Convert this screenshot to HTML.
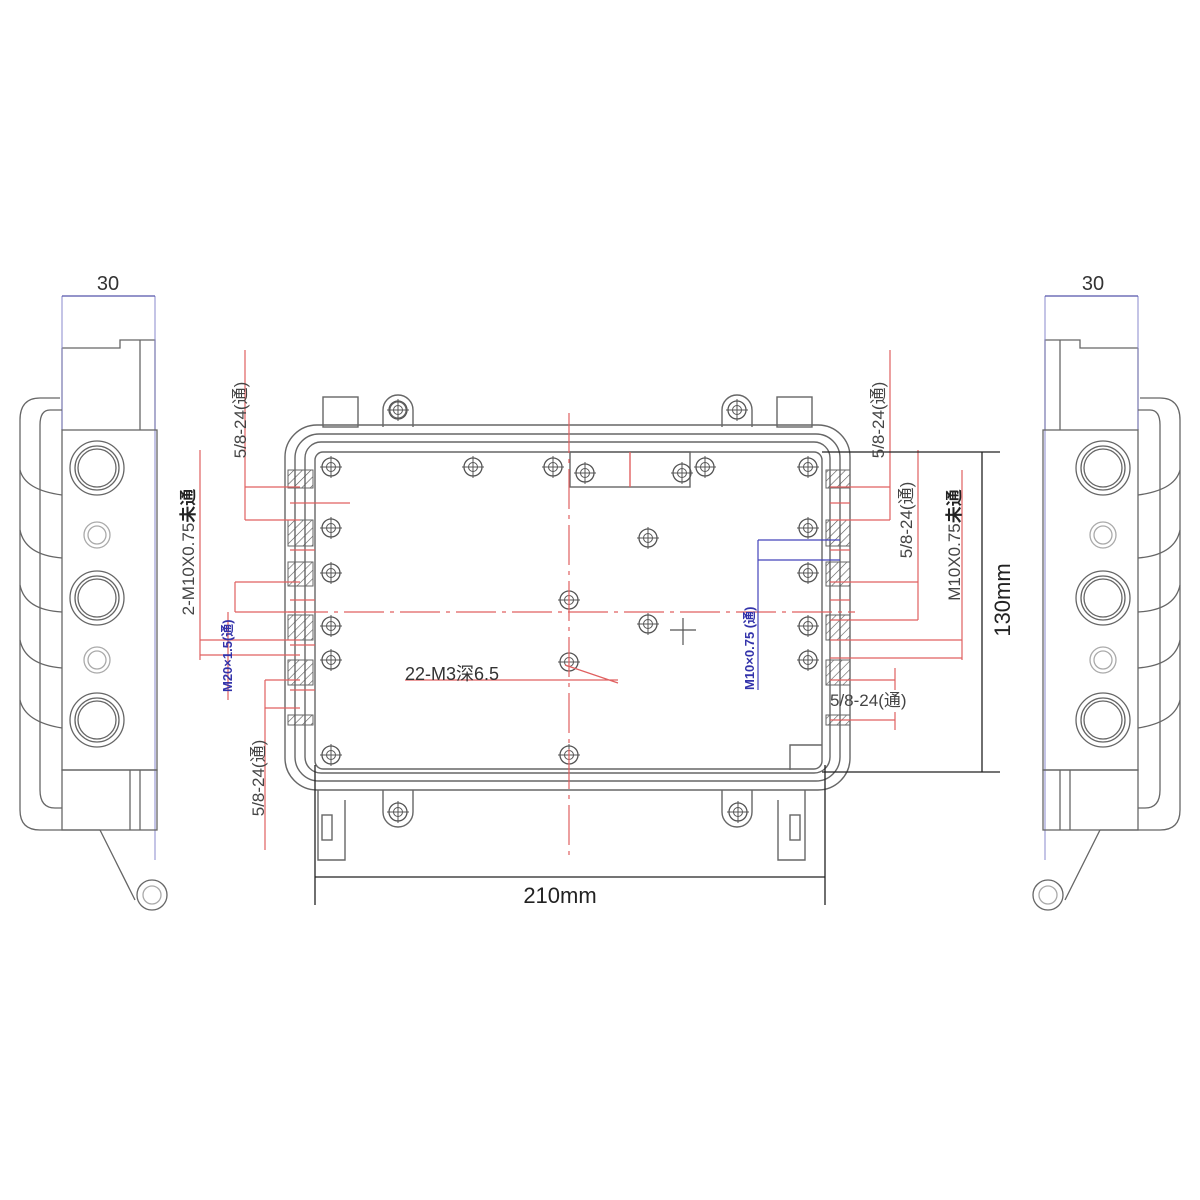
<!DOCTYPE html>
<html><head><meta charset="utf-8"><style>
html,body{margin:0;padding:0;background:#fff}
svg{display:block}
text{font-family:"Liberation Sans","Noto Sans CJK SC",sans-serif}
</style></head><body>
<svg width="1200" height="1200" viewBox="0 0 1200 1200" xmlns="http://www.w3.org/2000/svg">
<defs>
<pattern id="h" width="6" height="6" patternUnits="userSpaceOnUse" patternTransform="rotate(45)">
<line x1="0" y1="0" x2="0" y2="6" stroke="#555" stroke-width="1.2"/></pattern>
<g id="hole"><circle r="9" fill="none" stroke="#555" stroke-width="1.3"/><circle r="4.5" fill="none" stroke="#555" stroke-width="1"/><line x1="-11" y1="0" x2="11" y2="0" stroke="#555" stroke-width="1"/><line x1="0" y1="-11" x2="0" y2="11" stroke="#555" stroke-width="1"/></g>
<g id="side" fill="none" stroke="#666" stroke-width="1.3">
<path d="M62,348 H120 V340 H155 V430 M62,348 V430"/>
<line x1="140" y1="340" x2="140" y2="430"/>
<line x1="62" y1="296" x2="62" y2="430" stroke="#8888cc" stroke-width="1"/>
<line x1="155" y1="296" x2="155" y2="860" stroke="#8888cc" stroke-width="1"/>
<path d="M60,398 H40 Q20,398 20,420 V810 Q20,830 40,830 H100"/>
<path d="M62,410 H50 Q40,410 40,425 V790 Q40,808 55,808 H62"/>
<path d="M20,470 Q25,490 62,495 M20,530 Q25,555 62,558 M20,585 Q25,610 62,612 M20,640 Q25,665 62,668 M20,700 Q25,722 62,728"/>
<rect x="62" y="430" width="95" height="340"/>
<rect x="62" y="770" width="95" height="60"/>
<line x1="130" y1="770" x2="130" y2="830"/>
<line x1="140" y1="770" x2="140" y2="830"/>
<circle cx="97" cy="468" r="27"/><circle cx="97" cy="468" r="22"/><circle cx="97" cy="468" r="19"/>
<circle cx="97" cy="598" r="27"/><circle cx="97" cy="598" r="22"/><circle cx="97" cy="598" r="19"/>
<circle cx="97" cy="720" r="27"/><circle cx="97" cy="720" r="22"/><circle cx="97" cy="720" r="19"/>
<circle cx="97" cy="535" r="13" stroke="#aaa"/><circle cx="97" cy="535" r="9" stroke="#aaa"/>
<circle cx="97" cy="660" r="13" stroke="#aaa"/><circle cx="97" cy="660" r="9" stroke="#aaa"/>
<path d="M100,830 L135,900"/>
<circle cx="152" cy="895" r="15"/><circle cx="152" cy="895" r="9" stroke="#aaa"/>
<line x1="62" y1="296" x2="155" y2="296" stroke="#5555aa"/>
</g>
</defs>

<!-- side views -->
<use href="#side"/>
<text x="108" y="290" font-size="20" text-anchor="middle" fill="#333">30</text>
<g transform="translate(1200,0) scale(-1,1)"><use href="#side"/></g>
<text x="1093" y="290" font-size="20" text-anchor="middle" fill="#333">30</text>

<!-- main body -->
<g fill="none" stroke="#666" stroke-width="1.4">
<rect x="323" y="397" width="35" height="30"/>
<rect x="777" y="397" width="35" height="30"/>
<path d="M383,427 V410 a15,15 0 0 1 30,0 V427"/>
<path d="M722,427 V410 a15,15 0 0 1 30,0 V427"/>
<rect x="285" y="425" width="565" height="365" rx="32"/>
<rect x="295" y="434" width="545" height="347" rx="24"/>
<rect x="305" y="442" width="525" height="331" rx="16"/>
<rect x="315" y="452" width="507" height="317" rx="8"/>
<path d="M383,790 V812 a15,15 0 0 0 30,0 V790"/>
<path d="M722,790 V812 a15,15 0 0 0 30,0 V790"/>
<path d="M318,790 V860 H345 V800"/><rect x="322" y="815" width="10" height="25"/>
<path d="M778,800 V860 H805 V790"/><rect x="790" y="815" width="10" height="25"/>
<rect x="570" y="452" width="120" height="35"/>
<line x1="630" y1="452" x2="630" y2="487" stroke="#e06060"/>
<path d="M790,770 V745 H822"/>
</g>
<circle cx="398" cy="410" r="8" fill="none" stroke="#666"/><use href="#hole" x="398" y="410" transform="" />
<use href="#hole" x="737" y="410"/><use href="#hole" x="398" y="812"/><use href="#hole" x="738" y="812"/>
<!-- hatched pads -->
<g fill="url(#h)" stroke="#666" stroke-width="1">
<rect x="288" y="470" width="25" height="18"/><rect x="288" y="520" width="25" height="26"/><rect x="288" y="562" width="25" height="24"/>
<rect x="288" y="615" width="25" height="25"/><rect x="288" y="660" width="25" height="25"/><rect x="288" y="715" width="25" height="10"/>
<rect x="826" y="470" width="24" height="18"/><rect x="826" y="520" width="24" height="26"/><rect x="826" y="562" width="24" height="24"/>
<rect x="826" y="615" width="24" height="25"/><rect x="826" y="660" width="24" height="25"/><rect x="826" y="715" width="24" height="10"/>
</g>
<!-- holes -->
<use href="#hole" x="331" y="467"/><use href="#hole" x="473" y="467"/><use href="#hole" x="553" y="467"/><use href="#hole" x="705" y="467"/><use href="#hole" x="808" y="467"/>
<use href="#hole" x="331" y="528"/><use href="#hole" x="808" y="528"/><use href="#hole" x="331" y="573"/><use href="#hole" x="808" y="573"/>
<use href="#hole" x="648" y="538"/><use href="#hole" x="569" y="600"/><use href="#hole" x="648" y="624"/>
<use href="#hole" x="331" y="626"/><use href="#hole" x="808" y="626"/><use href="#hole" x="331" y="660"/><use href="#hole" x="808" y="660"/>
<use href="#hole" x="569" y="662"/><use href="#hole" x="331" y="755"/><use href="#hole" x="569" y="755"/>
<use href="#hole" x="585" y="473" transform="scale(1)"/><use href="#hole" x="682" y="473"/>
<path d="M683,618 V645 M670,630 H696" stroke="#555" stroke-width="1.2"/>

<!-- centerlines -->
<line x1="569" y1="413" x2="569" y2="855" stroke="#e06060" stroke-width="1.2" stroke-dasharray="40,6,4,6"/>
<line x1="288" y1="612" x2="855" y2="612" stroke="#e06060" stroke-width="1.2" stroke-dasharray="40,6,4,6"/>

<!-- red leaders left -->
<g stroke="#e06060" stroke-width="1.2" fill="none">
<path d="M245,350 V520 M245,487 H300 M245,520 H300"/>
<path d="M200,450 V660 M200,640 H300 M200,655 H300"/>
<path d="M235,582 V612 M235,582 H300 M235,612 H300 M228,700 V612"/>
<path d="M265,680 V850 M265,680 H300 M265,708 H300"/>
<path d="M290,503 H350 M290,550 H315 M290,600 H315 M290,645 H315 M290,690 H315"/>
<path d="M890,350 V520 M890,487 H830 M890,520 H830"/>
<path d="M918,450 V620 M918,582 H830 M918,620 H830"/>
<path d="M962,470 V660 M962,640 H830 M962,658 H830"/>
<path d="M895,668 V690 M895,712 V730 M895,680 H830 M895,720 H830"/>
<path d="M830,503 H850 M830,550 H850 M830,600 H850"/>
<path d="M565,665 L618,683 M405,680 H618"/>
</g>
<g stroke="#4444bb" stroke-width="1.2" fill="none"><path d="M758,540 V690 M758,540 H840 M758,560 H840"/></g>

<!-- dimensions -->
<g stroke="#222" stroke-width="1.3">
<line x1="315" y1="765" x2="315" y2="905"/><line x1="825" y1="765" x2="825" y2="905"/>
<line x1="315" y1="877" x2="825" y2="877"/>
<line x1="822" y1="452" x2="1000" y2="452"/><line x1="822" y1="772" x2="1000" y2="772"/>
<line x1="982" y1="452" x2="982" y2="772"/>
</g>
<text x="560" y="903" font-size="22" text-anchor="middle" fill="#222">210mm</text>
<text transform="translate(1010,600) rotate(-90)" font-size="22" text-anchor="middle" fill="#222">130mm</text>

<!-- labels -->
<g font-size="17" fill="#444">
<text transform="translate(246,420) rotate(-90)" text-anchor="middle">5/8-24(通)</text>
<text transform="translate(194,552) rotate(-90)" text-anchor="middle">2-M10X0.75<tspan font-weight="bold" fill="#222">未通</tspan></text>
<text transform="translate(264,778) rotate(-90)" text-anchor="middle">5/8-24(通)</text>
<text transform="translate(884,420) rotate(-90)" text-anchor="middle">5/8-24(通)</text>
<text transform="translate(912,520) rotate(-90)" text-anchor="middle">5/8-24(通)</text>
<text transform="translate(960,545) rotate(-90)" text-anchor="middle">M10X0.75<tspan font-weight="bold" fill="#222">未通</tspan></text>
<text x="830" y="706">5/8-24(通)</text>
<text x="405" y="680" font-size="18" fill="#333">22-M3深6.5</text>
</g>
<text transform="translate(232,692) rotate(-90)" font-size="13" fill="#3333aa" font-weight="bold">M20×1.5(通)</text>
<text transform="translate(754,690) rotate(-90)" font-size="13" fill="#3333aa" font-weight="bold">M10×0.75 (通)</text>
</svg>
</body></html>
